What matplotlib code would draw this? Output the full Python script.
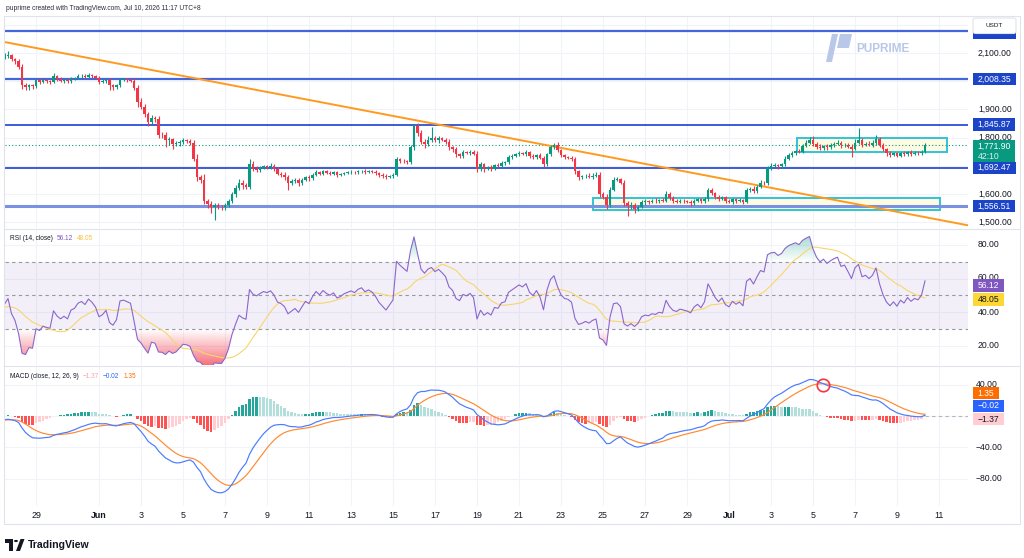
import numpy as np
import pandas as pd
import matplotlib
matplotlib.use("Agg")
import matplotlib.pyplot as plt
import matplotlib.dates as mdates
import matplotlib.colors as mcolors
from matplotlib.patches import Rectangle, Polygon, Circle, FancyBboxPatch
from matplotlib.path import Path

plt.rcParams['font.family'] = ['Liberation Sans', 'DejaVu Sans']

# ---------------- data (4h candles, ETH/USDT) ----------------
first_bar = "2026-05-27 12:00"
closes = [
    2088, 2092, 2078, 2070, 2050, 1985, 1978, 1985, 1982,
    2003, 1998, 2003, 2000, 1998, 2018,
    2008, 2002, 2005, 2000, 2010, 2012,
    2018, 2020, 2016, 2022, 2018, 2012,
    1998, 2000, 2004, 1985, 1980, 1985,
    2005, 2006, 2004, 2002, 1975, 1925,
    1910, 1885, 1855, 1870, 1865, 1810,
    1808, 1790, 1795, 1778, 1780, 1785,
    1790, 1788, 1780, 1725, 1660, 1650,
    1575, 1565, 1552, 1560, 1555, 1552,
    1560, 1575, 1600, 1620, 1640, 1630,
    1625, 1705, 1690, 1685, 1692, 1698,
    1695, 1700, 1690, 1672, 1668, 1660,
    1640, 1645, 1650, 1640, 1650, 1660,
    1655, 1668, 1678, 1672, 1680, 1675,
    1672, 1676, 1668, 1670, 1674, 1676,
    1678, 1676, 1680, 1682, 1678, 1680,
    1678, 1674, 1668, 1664, 1660, 1664,
    1668, 1722, 1718, 1715, 1712, 1765,
    1842, 1815, 1785, 1776, 1792, 1798,
    1790, 1798, 1792, 1785, 1765, 1758,
    1740, 1735, 1748, 1745, 1750, 1742,
    1688, 1705, 1690, 1695, 1688, 1702,
    1700, 1710, 1712, 1730, 1735, 1740,
    1745, 1742, 1748, 1735, 1730, 1738,
    1728, 1705, 1740, 1765, 1775, 1755,
    1738, 1730, 1728, 1722, 1680, 1660,
    1662, 1665, 1660, 1664, 1666, 1600,
    1590, 1560, 1615, 1650, 1652, 1640,
    1568, 1556, 1562, 1548, 1555, 1570,
    1574, 1572, 1576, 1574, 1578, 1576,
    1600, 1585, 1575, 1572, 1576, 1574,
    1572, 1568, 1576, 1580, 1574, 1582,
    1612, 1602, 1590, 1582, 1588, 1576,
    1572, 1580, 1575, 1578, 1572, 1612,
    1618, 1610, 1625, 1640, 1638, 1692,
    1700, 1702, 1698, 1705, 1725, 1738,
    1745, 1752, 1750, 1770, 1782, 1792,
    1778, 1768, 1762, 1770, 1765, 1772,
    1778, 1782, 1772, 1775, 1768, 1760,
    1782, 1790, 1775, 1778, 1774, 1780,
    1795, 1775, 1758, 1745, 1738, 1744,
    1736, 1745, 1740, 1748, 1742, 1746,
    1744, 1750, 1771.90,
]
wick_up = [
    12, 15, 6, 5, 8, 10, 8, 6, 5,
    6, 8, 5, 6, 4, 12,
    5, 6, 4, 6, 5, 4,
    6, 5, 7, 6, 4, 5,
    8, 6, 5, 6, 5, 4,
    8, 6, 5, 6, 8, 10,
    15, 8, 6, 10, 8, 12,
    8, 10, 6, 5, 8, 6,
    8, 6, 5, 10, 15, 8,
    20, 8, 10, 6, 8, 5,
    8, 6, 8, 10, 12, 8,
    8, 20, 10, 8, 6, 5,
    6, 8, 5, 6, 5, 8,
    8, 6, 5, 8, 6, 5,
    6, 5, 6, 4, 5, 6,
    5, 4, 6, 5, 4, 5,
    5, 4, 6, 4, 5, 4,
    5, 6, 4, 5, 6, 4,
    6, 8, 6, 5, 6, 10,
    5, 8, 10, 8, 15, 40,
    8, 6, 5, 6, 8, 6,
    8, 5, 6, 5, 4, 6,
    10, 8, 6, 5, 6, 5,
    6, 5, 6, 8, 5, 6,
    6, 5, 6, 5, 6, 5,
    6, 8, 6, 8, 6, 8,
    6, 5, 6, 5, 8, 6,
    5, 6, 8, 10, 12, 10,
    8, 10, 8, 10, 8, 6,
    8, 6, 8, 5, 6, 8,
    6, 5, 6, 8, 5, 6,
    10, 8, 6, 5, 6, 5,
    5, 6, 5, 6, 5, 6,
    10, 8, 6, 5, 6, 5,
    5, 6, 5, 6, 5, 8,
    8, 10, 6, 8, 6, 8,
    8, 6, 5, 6, 8, 6,
    6, 5, 8, 6, 8, 10,
    12, 6, 8, 5, 6, 8,
    6, 10, 6, 5, 6, 8,
    12, 44, 8, 6, 8, 10,
    15, 8, 6, 5, 6, 5,
    6, 5, 6, 5, 6, 5,
    6, 5, 8,
]
wick_dn = [
    8, 6, 5, 8, 6, 12, 10, 8, 10,
    6, 8, 5, 6, 8, 6,
    6, 5, 8, 6, 5, 6,
    5, 6, 5, 6, 5, 6,
    8, 6, 5, 15, 10, 8,
    6, 5, 6, 5, 8, 15,
    10, 12, 15, 8, 10, 12,
    10, 25, 15, 20, 8, 10,
    8, 6, 8, 10, 15, 12,
    12, 15, 20, 45, 10, 8,
    8, 6, 8, 10, 8, 12,
    8, 6, 10, 8, 6, 5,
    6, 5, 8, 6, 8, 10,
    25, 10, 8, 12, 10, 6,
    8, 6, 5, 6, 5, 6,
    5, 6, 8, 5, 4, 5,
    5, 4, 6, 5, 6, 4,
    5, 6, 8, 6, 8, 5,
    6, 5, 8, 6, 5, 6,
    8, 10, 8, 12, 6, 8,
    6, 8, 6, 8, 10, 8,
    10, 8, 6, 5, 6, 5,
    10, 8, 12, 6, 8, 5,
    6, 5, 6, 5, 6, 5,
    6, 5, 8, 6, 5, 6,
    6, 10, 6, 5, 6, 5,
    8, 6, 5, 6, 8, 10,
    8, 6, 5, 6, 5, 10,
    10, 15, 8, 6, 5, 6,
    10, 35, 8, 15, 8, 6,
    10, 8, 6, 5, 6, 5,
    6, 8, 6, 5, 6, 8,
    6, 10, 6, 5, 8, 6,
    6, 5, 8, 6, 5, 8,
    6, 8, 6, 5, 8, 6,
    6, 8, 6, 5, 6, 8,
    6, 5, 8, 6, 5, 6,
    8, 6, 5, 6, 5, 6,
    8, 10, 6, 5, 8, 6,
    6, 5, 8, 6, 5, 30,
    6, 5, 8, 6, 5, 6,
    6, 8, 6, 10, 8, 5,
    6, 5, 6, 5, 6, 5,
    5, 6, 5,
]
# closes before the visible window (only used to warm up RSI / MACD)
warmup_closes = [
    2132, 2126, 2130, 2124, 2129, 2123, 2127, 2121, 2126, 2120,
    2124, 2118, 2123, 2117, 2121, 2115, 2120, 2114, 2118, 2112,
    2117, 2111, 2115, 2109, 2114, 2108, 2112, 2106, 2111, 2105,
    2109, 2103, 2108, 2102, 2106, 2100, 2105, 2099, 2103, 2097,
    2102, 2096, 2100, 2094, 2099, 2093, 2097, 2091, 2096, 2090,
    2094, 2088, 2093, 2087, 2091, 2085, 2090, 2084, 2088, 2086,
]

levels = [2178.0, 2008.35, 1845.87, 1692.47, 1556.51]
level_labels = ["", "2,008.35", "1,845.87", "1,692.47", "1,556.51"]
trend_dates = ["2026-05-27 12:00", "2026-07-12 08:00"]
trend_prices = [2139, 1489]
box_upper_dates = ["2026-07-04 06:00", "2026-07-11 09:00"]
box_upper_prices = [1748, 1797]
box_lower_dates = ["2026-06-24 12:00", "2026-07-11 01:00"]
box_lower_prices = [1541, 1584]
last_price = 1771.90
price_grid = [2200, 2100, 2000, 1900, 1800, 1700, 1600, 1500]
price_tick_labels = [2100, 1900, 1800, 1600, 1500]
rsi_ticks = [80, 60, 40, 20]
macd_grid = [40, 0, -40, -80]
macd_tick_labels = [40, -40, -80]
date_ticks = ["2026-05-29", "2026-06-01", "2026-06-03", "2026-06-05", "2026-06-07",
              "2026-06-09", "2026-06-11", "2026-06-13", "2026-06-15", "2026-06-17",
              "2026-06-19", "2026-06-21", "2026-06-23", "2026-06-25", "2026-06-27",
              "2026-06-29", "2026-07-01", "2026-07-03", "2026-07-05", "2026-07-07",
              "2026-07-09", "2026-07-11"]
date_labels = ["29", "Jun", "3", "5", "7", "9", "11", "13", "15", "17", "19", "21",
               "23", "25", "27", "29", "Jul", "3", "5", "7", "9", "11"]
circle_date, circle_value = "2026-07-05 11:00", 39

# ---------------- figure ----------------
W, H = 1024, 558
fig = plt.figure(figsize=(W / 100, H / 100), dpi=100)
fig.patch.set_facecolor('white')


def fx(p):
    return p / W


def fy(p):
    return 1 - p / H


n = min(len(closes), len(wick_up), len(wick_dn))
closes_a = np.array(closes[:n], float)
opens_a = np.concatenate([[warmup_closes[-1]], closes_a[:-1]])
highs = np.maximum(opens_a, closes_a) + np.array(wick_up[:n], float)
lows = np.minimum(opens_a, closes_a) - np.array(wick_dn[:n], float)
times = pd.date_range(first_bar, periods=n, freq="4h")
xs = mdates.date2num(times.to_pydatetime())

d0 = mdates.date2num(pd.Timestamp("2026-05-29").to_pydatetime())
PX_DAY = 21.0
xmin = d0 - 31 / PX_DAY
xmax = d0 + 932 / PX_DAY


def xpx(d):
    return 36 + PX_DAY * (d - d0)


# ---------------- indicators ----------------
allc = np.array(warmup_closes + list(closes_a), float)
nw = len(warmup_closes)
delta = np.diff(allc, prepend=allc[0])
gain = np.clip(delta, 0, None)
loss = np.clip(-delta, 0, None)


def rma(x, L):
    out = np.full(len(x), np.nan)
    out[L] = x[1:L + 1].mean()
    for k in range(L + 1, len(x)):
        out[k] = (out[k - 1] * (L - 1) + x[k]) / L
    return out


ag, al = rma(gain, 14), rma(loss, 14)
rsi_all = 100 - 100 / (1 + ag / al)
rsi_ma_all = pd.Series(rsi_all).rolling(14).mean().values


def ema(s, L):
    return pd.Series(s).ewm(span=L, adjust=False).mean().values


macd_all = ema(allc, 12) - ema(allc, 26)
sig_all = ema(macd_all, 9)
hist_all = macd_all - sig_all
rsi = rsi_all[nw:]
rsi_ma = rsi_ma_all[nw:]
macd = macd_all[nw:]
sig = sig_all[nw:]
hist = hist_all[nw:]
hist_prev = hist_all[nw - 1:-1]

# ---------------- panes ----------------
panes = {
    'price': (17, 228, 1478.8, 2227.8),
    'rsi': (229, 365, 8.7, 89.5),
    'macd': (366, 506, -114.3, 63.5),
}
GRID = '#f0f3fa'


def make_ax(name):
    top, bot, lo, hi = panes[name]
    ax = fig.add_axes([fx(5), fy(bot), (968 - 5) / W, (bot - top) / H])
    ax.set_ylim(lo, hi)
    ax.set_xlim(xmin, xmax)
    for s in ax.spines.values():
        s.set_visible(False)
    ax.set_xticks([])
    ax.set_yticks([])
    ax.set_facecolor('none')
    for d in date_ticks:
        ax.axvline(mdates.date2num(pd.Timestamp(d).to_pydatetime()), color=GRID, lw=0.8, zorder=0)
    return ax


def vpx(name, v):
    top, bot, lo, hi = panes[name]
    return top + (hi - v) / (hi - lo) * (bot - top)


ax_p = make_ax('price')
ax_r = make_ax('rsi')
ax_m = make_ax('macd')

# ---- price pane ----
for t in price_grid:
    ax_p.axhline(t, color=GRID, lw=0.8, zorder=0)
lvl_colors = ['#4466dd', '#4466dd', '#1a3fd1', '#1a3fd1', '#7a90e0']
lvl_widths = [1.6, 1.6, 1.2, 1.2, 2.2]
for lv, c, w in zip(levels, lvl_colors, lvl_widths):
    ax_p.axhline(lv, color=c, lw=w, zorder=2)

for dts, prs in [(box_upper_dates, box_upper_prices), (box_lower_dates, box_lower_prices)]:
    bx0 = mdates.date2num(pd.Timestamp(dts[0]).to_pydatetime())
    bx1 = mdates.date2num(pd.Timestamp(dts[1]).to_pydatetime())
    ax_p.add_patch(Rectangle((bx0, prs[0]), bx1 - bx0, prs[1] - prs[0],
                             facecolor='#fffbe3', edgecolor='#2ec4d8', lw=1.4, zorder=1.5))

tx = [mdates.date2num(pd.Timestamp(d).to_pydatetime()) for d in trend_dates]
ax_p.axline((tx[0], trend_prices[0]), (tx[1], trend_prices[1]), color='#ff9a1f', lw=1.4, zorder=2.5)
ax_p.axhline(last_price, color='#089981', lw=0.8, ls=(0, (1, 2)), zorder=2)

up = closes_a >= opens_a
ccol = np.where(up, '#089981', '#F23645')
ax_p.vlines(xs, lows, highs, colors=ccol, lw=0.8, zorder=3)
body_h = np.maximum(np.abs(closes_a - opens_a), 1.5)
ax_p.bar(xs, body_h, bottom=np.minimum(opens_a, closes_a), width=0.135, color=ccol, lw=0, zorder=3.5)
ax_p.set_xlim(xmin, xmax)
ax_p.set_ylim(panes['price'][2], panes['price'][3])

# ---- RSI pane ----
for t in rsi_ticks:
    ax_r.axhline(t, color=GRID, lw=0.8, zorder=0)
ax_r.axhspan(30, 70, color='#7E57C2', alpha=0.09, lw=0, zorder=0.5)
for lv in (70, 50, 30):
    ax_r.axhline(lv, color='#9598a1', lw=0.8, ls=(0, (3, 3)), zorder=1)


def gradient_fill(ax, x, y, level, below, color, amax):
    mask = (y < level) if below else (y > level)
    if not mask.any():
        return
    coll = ax.fill_between(x, y, level, where=mask, interpolate=True,
                           facecolor='none', edgecolor='none')
    paths = coll.get_paths()
    if not paths:
        return
    comp = Path.make_compound_path(*paths)
    ylo = np.nanmin(y) if below else level
    yhi = level if below else np.nanmax(y)
    grad = np.zeros((100, 1, 4))
    grad[..., :3] = mcolors.to_rgb(color)
    a = np.linspace(amax, 0.0, 100) if below else np.linspace(0.0, amax, 100)
    grad[:, 0, 3] = a
    im = ax.imshow(grad, extent=[x.min(), x.max(), ylo, yhi], origin='lower',
                   aspect='auto', zorder=1.2, interpolation='bilinear')
    im.set_clip_path(comp, transform=ax.transData)


gradient_fill(ax_r, xs, rsi, 30, True, '#F23645', 0.75)
gradient_fill(ax_r, xs, rsi, 70, False, '#089981', 0.35)
ax_r.plot(xs, rsi_ma, color='#f7d66a', lw=0.8, zorder=2)
ax_r.plot(xs, rsi, color='#8a66cc', lw=0.8, zorder=2.5)
ax_r.set_xlim(xmin, xmax)
ax_r.set_ylim(panes['rsi'][2], panes['rsi'][3])

# ---- MACD pane ----
for t in macd_grid:
    ax_m.axhline(t, color=GRID, lw=0.8, zorder=0)
hcol = []
for h, hp in zip(hist, hist_prev):
    if h >= 0:
        hcol.append('#26A69A' if h >= hp else '#B2DFDB')
    else:
        hcol.append('#FF5252' if h < hp else '#FFCDD2')
ax_m.bar(xs, hist, width=0.13, color=hcol, lw=0, zorder=1.5)
ax_m.plot(xs, sig, color='#FF8a30', lw=0.85, zorder=2)
ax_m.plot(xs, macd, color='#4a7bff', lw=0.85, zorder=2.5)
ax_m.hlines(0, xs[-1], xmax, color='#b2b5be', lw=0.8, ls=(0, (3, 3)), zorder=1)
cd = mdates.date2num(pd.Timestamp(circle_date).to_pydatetime())
ax_m.plot([cd], [circle_value], 'o', ms=9, mfc='none', mec='#F23645', mew=1.2, zorder=4)

# ---------------- frame & separators ----------------
BORDER = '#e0e3eb'
fig.add_artist(Rectangle((fx(4), fy(524)), 1016 / W, 508 / H, transform=fig.transFigure,
                         fill=False, ec=BORDER, lw=0.8, zorder=1))
for ysep in (228.5, 365.5):
    fig.add_artist(plt.Line2D([fx(4), fx(1020)], [fy(ysep), fy(ysep)],
                              transform=fig.transFigure, color=BORDER, lw=0.8, zorder=1))

# ---------------- texts ----------------
DARK = '#131722'
fig.text(fx(6), fy(8), "puprime created with TradingView.com, Jul 10, 2026 11:17 UTC+8",
         fontsize=4.8, color='#2a2e39', ha='left', va='center')

for d, lab in zip(date_ticks, date_labels):
    dn = mdates.date2num(pd.Timestamp(d).to_pydatetime())
    fig.text(fx(xpx(dn)), fy(515), lab, fontsize=6.4, color=DARK, ha='center', va='center',
             fontweight='bold' if lab in ('Jun', 'Jul') else 'normal')

TICK_FS = 6.2
for t in price_tick_labels:
    fig.text(fx(978), fy(vpx('price', t)), f"{t:,.2f}", fontsize=TICK_FS, color=DARK,
             ha='left', va='center', zorder=3)
for t in rsi_ticks:
    yy = vpx('rsi', t) - (1.0 if t == 60 else 0)
    fig.text(fx(978), fy(yy), f"{t:.2f}", fontsize=TICK_FS, color=DARK,
             ha='left', va='center', zorder=3)
for t in macd_tick_labels:
    fig.text(fx(976), fy(vpx('macd', t)), f"\u2212{abs(t):.2f}" if t < 0 else f"{t:.2f}",
             fontsize=TICK_FS, color=DARK, ha='left', va='center', zorder=3)

renderer = fig.canvas.get_renderer()


def label_box(ypx, text, fc, tc, h=12.5, x0=973, sub=None, wmin=0):
    wpx = wmin
    if text:
        t = fig.text(fx(x0 + 4.5), fy(ypx), text, color=tc, fontsize=TICK_FS, ha='left',
                     va='center', zorder=6)
        wpx = t.get_window_extent(renderer=renderer).width
    hh = h if sub is None else 23
    ytop = ypx - h / 2
    fig.add_artist(Rectangle((fx(x0), fy(ytop + hh)), (wpx + 9) / W, hh / H,
                             transform=fig.transFigure, fc=fc, ec='none', zorder=5))
    if sub is not None:
        fig.text(fx(x0 + 4.5), fy(ypx + 11), sub, color=tc, alpha=0.85, fontsize=TICK_FS,
                 ha='left', va='center', zorder=6)


LBL = '#1c44c9'
label_box(vpx('price', levels[0]) + 2, level_labels[0], LBL, 'white', wmin=34)
label_box(vpx('price', levels[1]), level_labels[1], LBL, 'white')
label_box(vpx('price', levels[2]), level_labels[2], LBL, 'white')
label_box(vpx('price', last_price) + 0.5, "1,771.90", '#089981', 'white', sub="42:10")
label_box(vpx('price', levels[3]), level_labels[3], LBL, 'white')
label_box(vpx('price', levels[4]), level_labels[4], LBL, 'white')
label_box(285.5, "56.12", '#7E57C2', 'white')
label_box(299.5, "48.05", '#FDD835', DARK)
label_box(393, "1.35", '#FF6D00', 'white')
label_box(406, "\u22120.02", '#2962FF', 'white')
label_box(419, "\u22121.37", '#FFCDD2', DARK)

# USDT currency button (covers the top level label)
fig.add_artist(FancyBboxPatch((fx(973), fy(33.5)), 43 / W, 15.5 / H,
                              boxstyle="round,pad=0,rounding_size=0.003",
                              transform=fig.transFigure, fc='white', ec=BORDER, lw=0.8, zorder=7))
fig.text(fx(994.5), fy(25.5), "USDT", fontsize=4.6, color=DARK, ha='center', va='center', zorder=8)


# indicator legends
def legend_row(y, parts):
    xcur = 10
    for txt, col in parts:
        t = fig.text(fx(xcur), fy(y), txt, fontsize=4.7, color=col, ha='left', va='center', zorder=6)
        xcur += t.get_window_extent(renderer=renderer).width + 4


legend_row(238.5, [("RSI (14, close)", DARK), ("56.12", '#7E57C2'), ("48.05", '#F5C342')])
legend_row(376, [("MACD (close, 12, 26, 9)", DARK), ("\u22121.37", '#F7A1AE'),
                 ("\u22120.02", '#2962FF'), ("1.35", '#FF6D00')])

# PU PRIME watermark
WM = '#b9c7e8'
fig.add_artist(Polygon([(fx(826), fy(62)), (fx(832), fy(34)), (fx(838), fy(34)), (fx(832), fy(62))],
                       closed=True, transform=fig.transFigure, fc=WM, ec='none', zorder=2))
fig.add_artist(Polygon([(fx(840), fy(34)), (fx(852), fy(34)), (fx(849), fy(48)), (fx(837), fy(48))],
                       closed=True, transform=fig.transFigure, fc=WM, ec='none', zorder=2))
fig.text(fx(856), fy(48.5), "PUPRIME", fontsize=8.5, fontweight='bold', color=WM,
         ha='left', va='center', zorder=2)

# TradingView logo
fig.add_artist(Rectangle((fx(5), fy(543)), 8 / W, 4 / H, transform=fig.transFigure, fc=DARK, ec='none'))
fig.add_artist(Rectangle((fx(9), fy(551)), 4 / W, 12 / H, transform=fig.transFigure, fc=DARK, ec='none'))
fig.add_artist(Circle((fx(16), fy(541)), 2 / W, transform=fig.transFigure, fc=DARK, ec='none'))
fig.add_artist(Polygon([(fx(16), fy(551)), (fx(20.5), fy(539)), (fx(24.5), fy(539)), (fx(20), fy(551))],
                       closed=True, transform=fig.transFigure, fc=DARK, ec='none'))
fig.text(fx(28), fy(545.5), "TradingView", fontsize=7.6, fontweight='bold', color=DARK,
         ha='left', va='center')

fig.savefig("out.png", dpi=100, facecolor='white')
